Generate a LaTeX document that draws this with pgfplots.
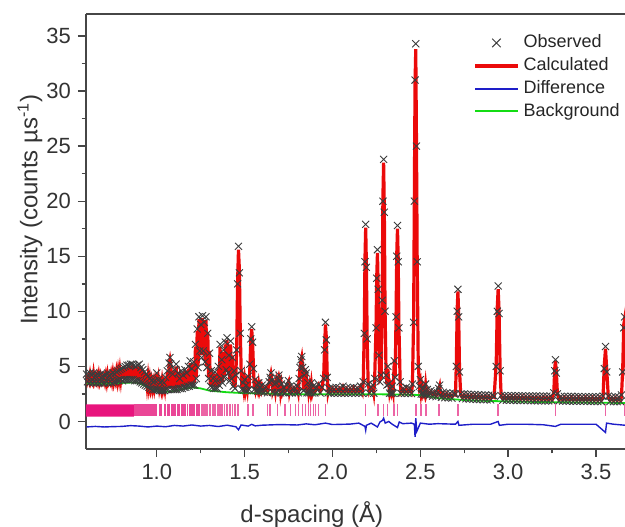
\documentclass[border=0pt]{standalone}
\usepackage{pgfplots}
\usepackage{pgfplotstable}
\pgfplotsset{compat=1.18}
\usepackage{fontspec}
\setmainfont{Liberation Sans}
\definecolor{obsgray}{RGB}{60,60,60}
\definecolor{calcred}{RGB}{235,10,10}
\definecolor{diffblue}{RGB}{30,30,200}
\definecolor{bggreen}{RGB}{20,220,20}
\definecolor{tickpink}{RGB}{232,20,125}
\definecolor{tickmid}{RGB}{234,70,150}
\definecolor{ticklight}{RGB}{236,100,165}
\definecolor{axgray}{RGB}{70,70,70}

\pgfplotstableread{
x calc obs
0.600 4.2 4.3
0.605 3.7 3.6
0.610 4.0 4.1
0.615 3.7 3.5
0.620 4.2 4.4
0.625 3.7 3.6
0.630 4.0 4.2
0.635 3.7 3.5
0.640 4.3 4.4
0.645 3.7 3.6
0.650 4.0 4.1
0.655 3.7 3.5
0.660 4.1 4.3
0.665 3.7 3.6
0.670 4.2 4.2
0.675 3.7 3.5
0.680 4.1 4.3
0.685 3.7 3.6
0.690 4.0 4.1
0.695 3.7 3.5
0.700 4.0 4.2
0.705 3.6 3.5
0.710 4.1 4.2
0.715 3.6 3.6
0.720 4.2 4.4
0.725 3.7 3.5
0.730 4.0 4.1
0.735 3.7 3.6
0.740 4.2 4.3
0.745 3.7 3.5
0.750 4.3 4.4
0.755 3.7 3.6
0.760 4.2 4.3
0.765 3.8 3.6
0.770 4.4 4.5
0.775 3.8 3.7
0.780 4.5 4.6
0.785 3.9 3.7
0.790 4.6 4.7
0.795 3.9 3.8
0.800 4.7 4.8
0.805 3.9 3.7
0.810 4.8 4.9
0.815 3.9 3.8
0.820 4.9 5.0
0.825 4.0 3.8
0.830 4.9 5.1
0.835 4.0 3.8
0.840 5.0 5.1
0.845 4.0 3.8
0.850 5.0 5.2
0.855 4.0 3.8
0.860 5.1 5.2
0.865 3.9 3.8
0.870 5.0 5.1
0.875 3.9 3.7
0.880 4.9 5.0
0.885 3.9 3.7
0.890 5.0 5.1
0.895 3.8 3.7
0.900 5.0 5.2
0.905 3.7 3.6
0.910 4.8 4.9
0.915 3.6 3.5
0.920 4.6 4.7
0.925 3.5 3.4
0.930 4.4 4.5
0.935 3.4 3.3
0.940 4.2 4.3
0.945 3.3 3.2
0.950 4.0 4.1
0.955 3.2 3.1
0.960 3.8 3.9
0.965 3.1 3.0
0.970 3.6 3.7
0.975 3.0 2.9
0.980 3.5 3.6
0.985 3.0 2.9
0.990 3.6 3.7
0.995 3.0 2.9
1.000 4.3 4.4
1.005 3.0 2.9
1.010 3.7 3.8
1.015 3.0 2.8
1.020 3.4 3.5
1.025 2.95 2.8
1.030 3.6 3.7
1.035 2.95 2.8
1.040 3.4 3.5
1.045 2.95 2.8
1.050 3.9 4.0
1.055 3.0 2.9
1.060 4.5 4.6
1.065 3.0 2.9
1.070 5.2 5.3
1.075 5.6 5.8
1.080 5.1 5.2
1.085 3.0 2.9
1.090 4.2 4.3
1.095 3.0 2.9
1.100 4.6 4.7
1.105 3.0 2.9
1.110 5.0 5.2
1.115 3.1 2.9
1.120 4.3 4.4
1.125 3.1 3.0
1.130 3.8 3.9
1.135 3.1 3.0
1.140 4.4 4.6
1.145 3.2 3.0
1.150 4.1 4.2
1.155 3.2 3.1
1.160 4.6 4.7
1.165 3.3 3.1
1.170 4.3 4.4
1.175 3.3 3.2
1.180 4.8 5.0
1.185 3.4 3.2
1.190 5.3 5.5
1.195 3.4 3.3
1.200 4.7 4.8
1.205 3.4 3.3
1.210 5.2 5.4
1.215 3.5 3.3
1.220 6.8 7.0
1.225 4.0 3.9
1.230 8.2 8.4
1.235 5.0 4.9
1.240 9.3 9.5
1.245 6.5 6.4
1.250 8.9 8.8
1.255 6.0 5.8
1.260 9.4 9.6
1.265 6.5 6.4
1.270 8.8 9.0
1.275 5.5 5.4
1.280 9.2 9.5
1.285 5.0 4.9
1.290 8.1 8.0
1.295 4.0 3.9
1.300 6.4 6.2
1.305 3.3 3.2
1.310 4.8 4.6
1.315 3.2 3.1
1.320 4.0 3.9
1.325 3.2 3.0
1.330 4.3 4.5
1.335 3.1 3.0
1.340 3.9 3.8
1.345 3.1 3.0
1.350 4.8 5.0
1.355 3.4 3.3
1.360 6.8 7.0
1.365 4.0 3.9
1.370 5.8 5.6
1.375 3.6 3.5
1.380 6.3 6.5
1.385 4.2 4.0
1.390 7.0 7.2
1.395 4.8 4.7
1.400 7.4 7.6
1.405 4.5 4.4
1.410 6.2 6.0
1.415 3.8 3.7
1.420 7.0 7.3
1.425 4.0 3.9
1.430 6.0 5.8
1.435 3.3 3.2
1.440 4.8 4.6
1.445 3.1 3.0
1.450 4.3 4.2
1.455 6.8 6.5
1.460 12.8 12.5
1.465 15.6 15.9
1.470 13.8 13.5
1.475 8.3 8.0
1.480 4.8 4.6
1.485 3.0 2.9
1.490 3.6 3.5
1.495 2.95 2.85
1.500 3.7 3.8
1.505 2.9 2.8
1.510 3.4 3.3
1.515 2.9 2.8
1.520 3.9 4.1
1.525 3.0 2.9
1.530 5.0 5.2
1.535 7.3 7.5
1.540 8.4 8.6
1.545 7.3 7.2
1.550 5.0 4.8
1.555 3.0 2.9
1.560 3.9 3.8
1.565 2.9 2.8
1.570 3.2 3.3
1.575 2.85 2.75
1.580 3.4 3.5
1.585 2.85 2.75
1.590 3.2 3.1
1.595 2.85 2.75
1.600 3.2 3.3
1.61 2.75 2.65
1.62 3.05 3.15
1.63 2.75 2.6
1.64 3.5 3.6
1.645 3.9 4.0
1.65 4.3 4.4
1.655 3.8 3.7
1.66 2.75 2.65
1.67 3.3 3.4
1.675 2.74 2.6
1.68 3.4 3.5
1.685 2.74 2.65
1.69 3.8 3.9
1.695 4.1 4.2
1.70 3.8 3.7
1.705 2.72 2.6
1.71 3.3 3.4
1.715 2.72 2.65
1.72 3.0 3.1
1.73 2.7 2.6
1.74 3.2 3.3
1.75 3.6 3.7
1.755 2.7 2.6
1.76 3.1 3.2
1.77 2.7 2.6
1.78 3.0 3.1
1.79 2.68 2.6
1.80 3.1 3.2
1.805 2.68 2.6
1.81 3.8 3.9
1.815 4.8 4.9
1.82 5.4 5.6
1.825 5.8 5.9
1.83 5.0 4.9
1.835 2.9 2.8
1.84 4.1 4.2
1.845 4.6 4.7
1.85 4.5 4.4
1.855 2.7 2.6
1.86 3.6 3.5
1.865 2.7 2.6
1.87 3.2 3.1
1.875 2.7 2.6
1.88 3.4 3.5
1.885 2.7 2.6
1.89 3.1 3.2
1.90 2.7 2.6
1.91 3.0 3.1
1.92 3.3 3.4
1.93 2.7 2.6
1.94 3.0 3.1
1.95 4.1 3.9
1.955 6.8 6.5
1.96 8.8 9.0
1.965 7.6 7.4
1.97 4.2 4.0
1.975 2.7 2.6
1.98 3.1 3.0
1.99 2.67 2.57
2.00 2.95 3.05
2.01 2.67 2.57
2.02 3.0 3.1
2.03 2.67 2.57
2.04 2.95 3.05
2.05 2.67 2.57
2.06 3.1 3.2
2.07 2.67 2.57
2.08 2.95 3.05
2.09 2.67 2.57
2.10 2.95 3.05
2.11 2.67 2.57
2.12 3.0 3.1
2.13 2.67 2.57
2.14 2.95 3.05
2.15 2.67 2.57
2.16 3.1 3.2
2.17 2.67 2.57
2.175 3.5 3.6
2.181 8.4 8.0
2.185 14.8 14.5
2.189 17.6 17.9
2.193 14.2 14.0
2.197 7.8 7.5
2.203 3.5 3.4
2.21 2.67 2.57
2.22 3.0 3.1
2.23 3.2 3.3
2.235 2.67 2.57
2.24 3.8 3.9
2.248 8.7 8.5
2.252 13.2 13.0
2.256 15.3 15.6
2.260 12.3 12.0
2.264 6.4 6.0
2.27 3.8 3.6
2.277 4.0 4.2
2.283 11.5 11.0
2.287 20.3 20.0
2.291 23.5 23.8
2.295 19.3 19.0
2.299 10.4 10.0
2.305 4.3 4.2
2.31 3.4 3.3
2.315 4.8 5.0
2.32 3.5 3.4
2.325 2.67 2.57
2.33 3.1 3.0
2.335 2.67 2.57
2.34 3.1 3.2
2.345 2.66 2.56
2.352 5.6 5.5
2.357 4.1 4.0
2.362 9.8 9.5
2.366 15.3 15.0
2.370 17.5 17.8
2.374 14.8 14.5
2.378 8.8 8.5
2.385 3.7 3.6
2.39 2.65 2.55
2.40 2.9 3.0
2.41 2.65 2.55
2.42 3.0 3.1
2.43 2.65 2.55
2.44 2.9 3.0
2.45 2.64 2.54
2.455 3.3 3.4
2.462 9.5 9.0
2.466 20.5 20.0
2.470 30.8 31.0
2.474 33.8 34.3
2.478 25.4 25.0
2.482 14.8 14.5
2.488 5.3 5.0
2.495 3.3 3.2
2.50 3.6 3.8
2.505 2.6 2.5
2.51 3.1 3.0
2.515 2.58 2.5
2.52 2.9 3.0
2.525 2.55 2.45
2.53 3.3 3.4
2.535 2.52 2.42
2.54 2.8 2.9
2.55 2.48 2.38
2.56 2.7 2.8
2.57 2.4 2.3
2.58 2.6 2.7
2.59 2.35 2.25
2.60 2.5 2.6
2.605 2.9 3.0
2.61 3.2 3.3
2.615 2.5 2.4
2.62 2.3 2.2
2.63 2.55 2.65
2.64 2.26 2.16
2.65 2.5 2.6
2.66 2.24 2.14
2.67 2.45 2.55
2.68 2.22 2.12
2.69 2.45 2.55
2.70 2.4 2.5
2.705 5.3 5.0
2.710 10.3 10.0
2.714 11.8 12.0
2.718 9.8 9.5
2.723 4.7 4.5
2.73 2.4 2.5
2.74 2.18 2.08
2.75 2.4 2.5
2.76 2.16 2.06
2.77 2.38 2.48
2.78 2.14 2.04
2.79 2.36 2.46
2.80 2.12 2.02
2.81 2.34 2.44
2.82 2.1 2.0
2.83 2.32 2.42
2.84 2.09 1.99
2.85 2.3 2.4
2.86 2.08 1.98
2.87 2.3 2.4
2.88 2.07 1.97
2.89 2.28 2.38
2.90 2.06 1.96
2.91 2.28 2.38
2.92 2.2 2.3
2.932 5.3 5.0
2.938 10.4 10.0
2.943 12.0 12.3
2.948 10.1 9.8
2.954 4.8 4.6
2.96 2.3 2.35
2.97 2.04 1.94
2.98 2.25 2.35
2.99 2.03 1.93
3.00 2.25 2.35
3.01 2.02 1.92
3.02 2.24 2.34
3.03 2.02 1.92
3.04 2.24 2.34
3.05 2.01 1.91
3.06 2.23 2.33
3.07 2.01 1.91
3.08 2.23 2.33
3.09 2.0 1.9
3.10 2.22 2.32
3.11 2.0 1.9
3.12 2.22 2.32
3.13 1.99 1.89
3.14 2.21 2.31
3.15 1.99 1.89
3.16 2.21 2.31
3.17 1.98 1.88
3.18 2.2 2.3
3.19 1.97 1.87
3.20 2.2 2.3
3.21 1.97 1.87
3.22 2.2 2.3
3.23 1.97 1.87
3.24 2.2 2.3
3.25 1.97 1.87
3.26 2.7 2.6
3.265 4.8 4.6
3.269 5.5 5.6
3.274 4.6 4.4
3.28 2.6 2.5
3.29 1.96 1.86
3.30 2.18 2.28
3.31 1.96 1.86
3.32 2.18 2.28
3.33 1.95 1.85
3.34 2.17 2.27
3.35 1.95 1.85
3.36 2.17 2.27
3.37 1.94 1.84
3.38 2.16 2.26
3.39 1.94 1.84
3.40 2.16 2.26
3.41 1.93 1.83
3.42 2.15 2.25
3.43 1.93 1.83
3.44 2.15 2.25
3.45 1.93 1.83
3.46 2.15 2.25
3.47 1.92 1.82
3.48 2.15 2.25
3.49 1.92 1.82
3.50 2.14 2.24
3.51 1.92 1.82
3.52 2.14 2.24
3.53 1.92 1.82
3.54 2.2 2.3
3.547 5.1 4.8
3.554 6.6 6.8
3.561 4.7 4.5
3.57 2.2 2.3
3.58 1.91 1.81
3.59 2.13 2.23
3.60 1.91 1.81
3.61 2.13 2.23
3.62 1.9 1.8
3.63 2.12 2.22
3.64 1.9 1.8
3.645 2.3 2.4
3.652 4.8 4.5
3.658 8.8 8.5
3.663 9.3 9.5
3.668 8.3 8.0
3.675 3.2 3.0
}\prof

\pgfplotstableread{
x y
0.60 3.45
0.70 3.40
0.80 3.50
0.88 3.55
0.92 3.35
0.96 3.00
1.00 2.75
1.05 2.70
1.10 2.75
1.15 2.95
1.20 3.10
1.25 3.00
1.30 2.80
1.40 2.65
1.50 2.57
1.60 2.55
1.70 2.50
1.80 2.48
2.00 2.47
2.20 2.47
2.40 2.45
2.50 2.40
2.55 2.28
2.60 2.12
2.70 2.00
2.80 1.90
3.00 1.82
3.20 1.76
3.40 1.72
3.67 1.68
}\bgtab

\pgfplotstableread{
x y
0.60 -0.50
0.65 -0.45
0.70 -0.50
0.75 -0.47
0.80 -0.45
0.85 -0.38
0.90 -0.42
0.95 -0.50
1.00 -0.42
1.05 -0.48
1.10 -0.36
1.15 -0.42
1.20 -0.32
1.25 -0.42
1.30 -0.36
1.35 -0.46
1.40 -0.34
1.45 -0.48
1.465 -0.75
1.48 -0.32
1.52 -0.42
1.54 -0.26
1.56 -0.40
1.60 -0.34
1.70 -0.28
1.80 -0.32
1.85 -0.22
1.90 -0.30
1.96 -0.15
2.00 -0.28
2.10 -0.24
2.15 -0.15
2.185 -0.45
2.189 -0.80
2.193 -0.35
2.22 -0.15
2.256 -0.50
2.27 -0.05
2.285 0.10
2.291 0.30
2.30 -0.15
2.32 0.00
2.34 -0.25
2.370 -0.55
2.38 -0.05
2.40 -0.20
2.45 -0.15
2.466 -0.25
2.470 -1.40
2.474 0.30
2.480 -0.90
2.50 -0.15
2.55 -0.25
2.60 -0.20
2.70 -0.25
2.714 0.00
2.72 -0.35
2.80 -0.25
2.90 -0.25
2.943 0.00
2.95 -0.35
3.00 -0.25
3.10 -0.25
3.20 -0.30
3.269 -0.45
3.30 -0.25
3.40 -0.25
3.50 -0.25
3.554 -1.00
3.56 -0.15
3.60 -0.25
3.67 -0.35
}\difftab

\pgfplotstableread{
x y
0.875 1.0
0.883 1.0
0.891 1.0
0.899 1.0
0.907 1.0
0.915 1.0
0.923 1.0
0.931 1.0
0.939 1.0
0.947 1.0
0.955 1.0
0.963 1.0
0.971 1.0
0.979 1.0
0.987 1.0
0.995 1.0
1.017 1.0
1.025 1.0
1.046 1.0
1.063 1.0
1.070 1.0
1.086 1.0
1.095 1.0
1.103 1.0
1.120 1.0
1.130 1.0
1.143 1.0
1.150 1.0
1.160 1.0
1.175 1.0
1.189 1.0
1.195 1.0
1.206 1.0
1.215 1.0
1.229 1.0
1.240 1.0
}\tickdense

\pgfplotstableread{
x y
1.257 1.0
1.265 1.0
1.274 1.0
1.285 1.0
1.303 1.0
1.320 1.0
1.331 1.0
1.349 1.0
1.360 1.0
1.371 1.0
1.385 1.0
1.400 1.0
1.417 1.0
1.430 1.0
1.446 1.0
1.463 1.0
1.520 1.0
1.549 1.0
1.629 1.0
1.646 1.0
1.686 1.0
1.731 1.0
1.760 1.0
1.789 1.0
1.806 1.0
1.829 1.0
1.846 1.0
1.863 1.0
1.874 1.0
1.891 1.0
1.903 1.0
1.920 1.0
1.960 1.0
2.189 1.0
2.256 1.0
2.263 1.0
2.291 1.0
2.314 1.0
2.349 1.0
2.371 1.0
2.474 1.0
2.503 1.0
2.531 1.0
2.606 1.0
2.714 1.0
2.943 1.0
3.269 1.0
3.554 1.0
3.663 1.0
}\ticktab

\begin{document}
\begin{tikzpicture}
\begin{axis}[name=ax, scale only axis, width=269.5pt, height=217.5pt,
  xmin=0.597, xmax=3.665, ymin=-2.5, ymax=37,
  axis x line*=box, axis y line*=left,
  xtick pos=left, ytick pos=left,
  tick align=outside, major tick length=4pt, minor tick length=2.2pt,
  xtick={1,1.5,2,2.5,3,3.5}, ytick={0,5,...,35},
  minor x tick num=1, minor y tick num=1,
  axis line style={axgray, line width=0.8pt},
  every tick/.style={axgray, line width=0.7pt},
  tick label style={font=\fontsize{11}{12}\selectfont, color=black!80},
  /pgf/number format/assume math mode=true,
  xticklabel style={/pgf/number format/fixed, /pgf/number format/fixed zerofill, /pgf/number format/precision=1},
  xlabel={d-spacing (Å)}, ylabel={Intensity (counts µs\textsuperscript{-1})},
  label style={font=\fontsize{12}{14}\selectfont, color=black!80},
  xlabel style={at={(axis description cs:0.419,0)}, anchor=center, yshift=-33pt},
  ylabel style={at={(axis description cs:-0.104,0.55)}, anchor=center},
  legend style={draw=none, fill=none, at={(0.718,0.962)}, anchor=north west,
    font=\fontsize{9}{11}\selectfont, text=black!85, inner sep=0pt, row sep=-0.6pt},
  legend cell align=left,
  legend image code/.code={\draw[mark repeat=2,mark phase=2,#1] plot coordinates {(0cm,0cm) (0.37cm,0cm) (0.74cm,0cm)};},
]
\addlegendimage{only marks, mark=x, mark size=3pt, obsgray, mark options={line width=0.5pt}}
\addlegendentry{Observed}
\addlegendimage{calcred, line width=2pt}
\addlegendentry{Calculated}
\addlegendimage{diffblue, line width=0.9pt}
\addlegendentry{Difference}
\addlegendimage{bggreen, line width=1pt}
\addlegendentry{Background}

\addplot[calcred, line width=1.6pt, forget plot] table[x=x,y=calc]{\prof};
\addplot[only marks, mark=x, mark size=2.5pt, obsgray, mark options={line width=0.45pt}, forget plot] table[x=x,y=obs]{\prof};
\addplot[bggreen, line width=0.9pt, forget plot] table[x=x,y=y]{\bgtab};
\addplot[diffblue, line width=0.7pt, forget plot] table[x=x,y=y]{\difftab};
\addplot[fill=tickpink, draw=none, forget plot] coordinates {(0.597,0.45) (0.87,0.45) (0.87,1.55) (0.597,1.55) (0.597,0.45)};
\addplot[only marks, mark=|, mark size=3pt, tickmid, mark options={line width=0.7pt}, forget plot] table[x=x,y=y]{\tickdense};
\addplot[only marks, mark=|, mark size=3pt, ticklight, mark options={line width=0.8pt}, forget plot] table[x=x,y=y]{\ticktab};
\end{axis}
\pgfresetboundingbox
\path ([shift={(-43pt,-39pt)}]ax.south west) rectangle ([shift={(0pt,7pt)}]ax.north east);
\end{tikzpicture}
\end{document}
